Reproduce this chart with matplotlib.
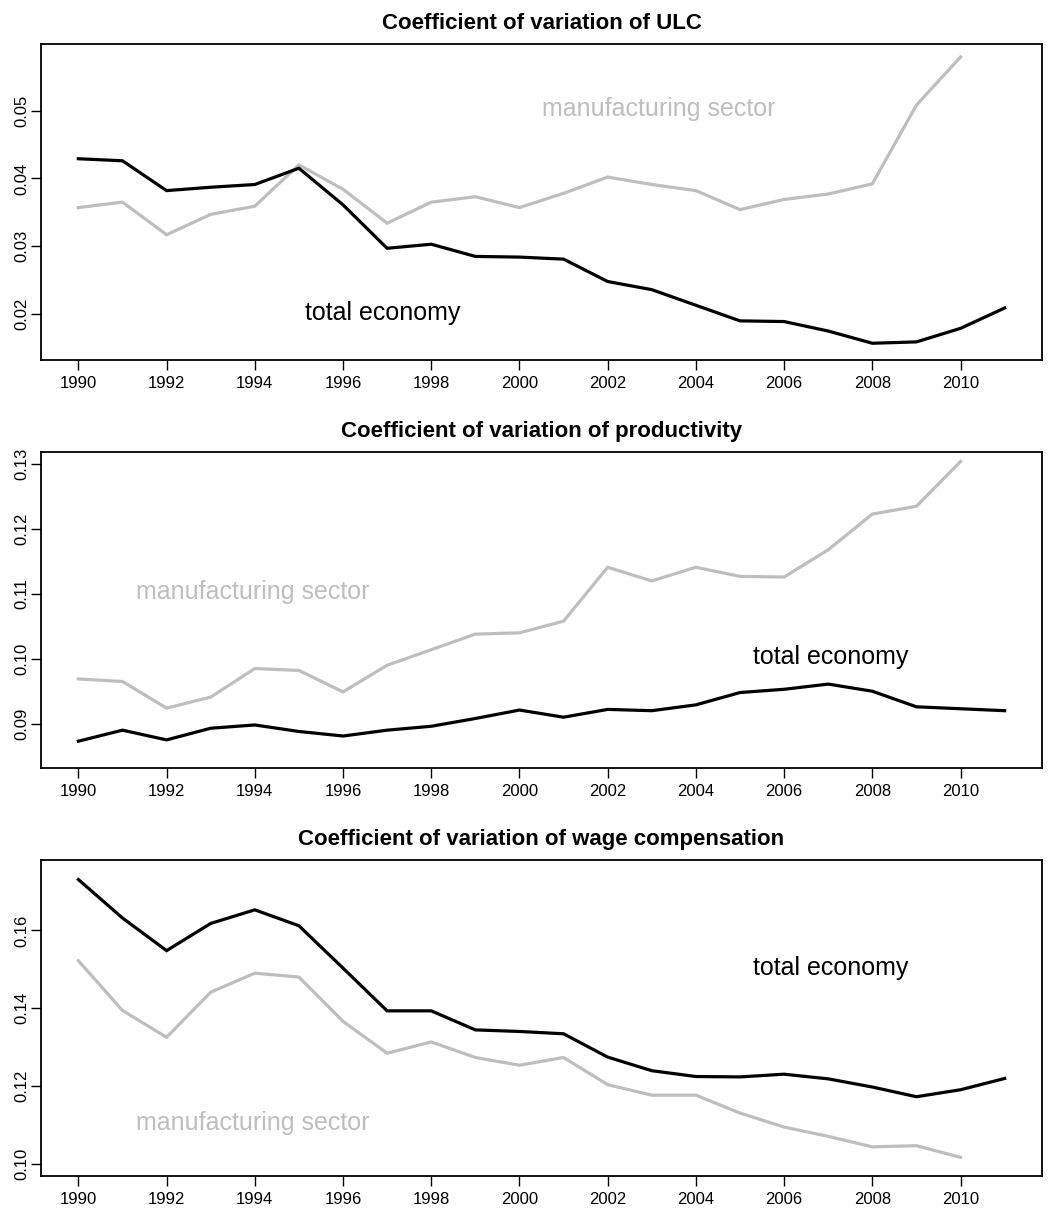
import matplotlib
matplotlib.use("Agg")
import matplotlib.pyplot as plt
import numpy as np

plt.rcParams['font.family'] = ['Liberation Sans', 'DejaVu Sans']

years = list(range(1990, 2012))
years_mfg = list(range(1990, 2011))

# Panel 1: ULC
ulc_total = [0.0429, 0.0426, 0.0382, 0.0387, 0.0391, 0.0415, 0.0361, 0.0297, 0.0303, 0.0285,
             0.0284, 0.0281, 0.0248, 0.0236, 0.0213, 0.0190, 0.0189, 0.0175, 0.0157, 0.0159,
             0.0179, 0.0209]
ulc_mfg = [0.0357, 0.0365, 0.0317, 0.0347, 0.0359, 0.0420, 0.0384, 0.0334, 0.0365, 0.0373,
           0.0357, 0.0378, 0.0402, 0.0391, 0.0382, 0.0354, 0.0369, 0.0377, 0.0392, 0.0508,
           0.0579]

# Panel 2: productivity
prod_total = [0.0873, 0.0890, 0.0875, 0.0893, 0.0898, 0.0888, 0.0881, 0.0890, 0.0896, 0.0908,
              0.0921, 0.0910, 0.0922, 0.0920, 0.0929, 0.0948, 0.0953, 0.0961, 0.0950, 0.0926,
              0.0923, 0.0920]
prod_mfg = [0.0969, 0.0965, 0.0924, 0.0941, 0.0985, 0.0982, 0.0949, 0.0990, 0.1014, 0.1038,
            0.1040, 0.1058, 0.1141, 0.1120, 0.1141, 0.1127, 0.1126, 0.1168, 0.1223, 0.1235,
            0.1304]

# Panel 3: wage compensation
wage_total = [0.1731, 0.1632, 0.1548, 0.1618, 0.1653, 0.1612, 0.1503, 0.1393, 0.1393, 0.1344,
              0.1340, 0.1334, 0.1274, 0.1239, 0.1224, 0.1223, 0.1230, 0.1218, 0.1197, 0.1172,
              0.1190, 0.1219]
wage_mfg = [0.1522, 0.1394, 0.1325, 0.1441, 0.1490, 0.1480, 0.1366, 0.1284, 0.1313, 0.1273,
            0.1253, 0.1273, 0.1203, 0.1176, 0.1176, 0.1130, 0.1094, 0.1070, 0.1043, 0.1046,
            0.1016]

titles = ["Coefficient of variation of ULC",
          "Coefficient of variation of productivity",
          "Coefficient of variation of wage compensation"]
x_ticks = list(range(1990, 2011, 2))
y_ticks = [[0.02, 0.03, 0.04, 0.05],
           [0.09, 0.10, 0.11, 0.12, 0.13],
           [0.10, 0.12, 0.14, 0.16]]
y_ticklabels = [["0.02", "0.03", "0.04", "0.05"],
                ["0.09", "0.10", "0.11", "0.12", "0.13"],
                ["0.10", "0.12", "0.14", "0.16"]]
ylims = [(0.01323, 0.0598), (0.08317, 0.13185), (0.0968, 0.1781)]
label_total_pos = [(1996.9, 0.0202), (2007.05, 0.1003), (2007.05, 0.1503)]
label_mfg_pos = [(2003.15, 0.0503), (1993.95, 0.1103), (1993.95, 0.1104)]

GRAY = "#BEBEBE"

fig = plt.figure(figsize=(10.62, 12.15), dpi=100)
left, width = 0.0389, 0.942
bottoms = [0.7037, 0.3679, 0.0321]
height = 0.2600

series = [(ulc_total, ulc_mfg), (prod_total, prod_mfg), (wage_total, wage_mfg)]

for i in range(3):
    ax = fig.add_axes([left, bottoms[i], width, height])
    tot, mfg = series[i]
    ax.plot(years_mfg, mfg, color=GRAY, lw=2.3, solid_joinstyle='miter')
    ax.plot(years, tot, color="black", lw=2.3, solid_joinstyle='miter')
    ax.set_xlim(1989.16, 2011.84)
    ax.set_ylim(*ylims[i])
    ax.set_xticks(x_ticks)
    ax.set_xticklabels([str(t) for t in x_ticks])
    ax.set_yticks(y_ticks[i])
    ax.set_yticklabels(y_ticklabels[i], rotation=90, va='center')
    ax.tick_params(axis='both', direction='out', length=7.5, width=1.0,
                   labelsize=12, color='black')
    ax.tick_params(axis='x', pad=4)
    ax.tick_params(axis='y', pad=0.8)
    for sp in ax.spines.values():
        sp.set_linewidth(1.3)
        sp.set_color('black')
    ax.text(0.5, 1.066, titles[i], transform=ax.transAxes, ha='center', va='center',
            fontsize=16, fontweight='bold')
    tx, ty = label_total_pos[i]
    ax.text(tx, ty, "total economy", ha='center', va='center', fontsize=18, color='black')
    mx, my = label_mfg_pos[i]
    ax.text(mx, my, "manufacturing sector", ha='center', va='center', fontsize=18, color=GRAY)

fig.savefig("out.png", dpi=100)
